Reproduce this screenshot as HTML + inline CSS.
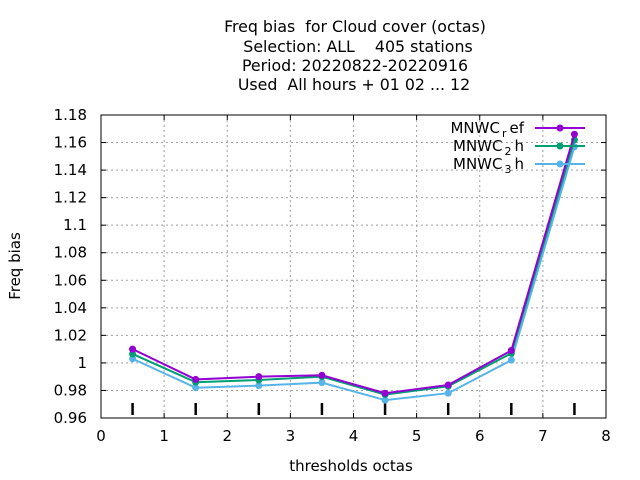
<!DOCTYPE html>
<html><head><meta charset="utf-8"><style>body{margin:0;background:#fff}svg{display:block;font-family:"DejaVu Sans","Liberation Sans",sans-serif}text{white-space:pre}</style></head>
<body>
<svg id="chart" width="640" height="480" xmlns="http://www.w3.org/2000/svg" xml:space="preserve">
<g font-size="15.8" text-anchor="middle" fill="#000">
<text x="355" y="32">Freq bias  for Cloud cover (octas)</text>
<text x="358" y="52">Selection: ALL    405 stations</text>
<text x="355" y="71">Period: 20220822-20220916</text>
<text x="354" y="90">Used  All hours + 01 02 ... 12</text>
</g>
<g id="grid"></g>
<g id="axes"></g>
<g id="series"></g>
<text x="20" y="266" font-size="15" text-anchor="middle" transform="rotate(-90 20 266)">Freq bias</text>
<text x="351" y="471" font-size="15" text-anchor="middle">thresholds octas</text>
<g id="legend"></g>
</svg>
<script>
const categories=[0.5,1.5,2.5,3.5,4.5,5.5,6.5,7.5];
const refValues=[1.010,0.988,0.990,0.991,0.978,0.984,1.009,1.166];
const c2hValues=[1.0065,0.986,0.9876,0.990,0.977,0.983,1.007,1.162];
const c3hValues=[1.003,0.982,0.9835,0.9857,0.973,0.978,1.002,1.157];
const xTicks=[0,1,2,3,4,5,6,7,8];
const yTicks=[0.96,0.98,1,1.02,1.04,1.06,1.08,1.1,1.12,1.14,1.16,1.18];
const seriesNames=["MNWC_ref","MNWC_2h","MNWC_3h"];
const L=101,R=606,T=115,B=418;
const xs=v=>L+(v-0)/8*(R-L);
const ys=v=>B-(v-0.96)/0.22*(B-T);
const NS="http://www.w3.org/2000/svg";
function mk(p,t,a){const e=document.createElementNS(NS,t);for(const k in a)e.setAttribute(k,a[k]);p.appendChild(e);return e;}
const grid=document.getElementById('grid'),axes=document.getElementById('axes'),ser=document.getElementById('series'),leg=document.getElementById('legend');
xTicks.forEach(t=>{const x=xs(t);
 if(t>0&&t<8){const g=mk(grid,'line',{x1:x,x2:x,y1:T,y2:B,stroke:'#a0a0a0','stroke-dasharray':'2,3'});
 
 }
 const tl=mk(axes,'line',{x1:x,x2:x,y1:B,y2:B-5,stroke:'#000'});
 const tl2=mk(axes,'line',{x1:x,x2:x,y1:T,y2:T+5,stroke:'#000'});
 const lb=mk(axes,'text',{x:x,y:B+23,'font-size':15,'text-anchor':'middle'});lb.textContent=t;
 
 });
yTicks.forEach(t=>{const y=ys(t);
 if(t>0.96&&t<1.18){const g=mk(grid,'line',{x1:L,x2:R,y1:y,y2:y,stroke:'#a0a0a0','stroke-dasharray':'2,3'});
 
 }
 const tl=mk(axes,'line',{x1:L,x2:L+5,y1:y,y2:y,stroke:'#000'});
 const tr=mk(axes,'line',{x1:R,x2:R-5,y1:y,y2:y,stroke:'#000'});
 const lb=mk(axes,'text',{x:L-14,y:y+5,'font-size':15,'text-anchor':'end'});lb.textContent=String(t);
 
 });
const fr=mk(axes,'rect',{x:L,y:T,width:R-L,height:B-T,fill:'none',stroke:'#000'});


categories.forEach(c=>{const im=mk(axes,'line',{x1:xs(c),x2:xs(c),y1:B-15,y2:B-3,stroke:'#000','stroke-width':2.5});
 
 });
const all=[[refValues,'#9400d3'],[c2hValues,'#009e73'],[c3hValues,'#56b4e9']];
all.slice().reverse().forEach(([vals,col],ri)=>{const i=2-ri;
 const pl=mk(ser,'polyline',{points:categories.map((c,j)=>xs(c)+','+ys(vals[j])).join(' '),fill:'none',stroke:col,'stroke-width':2});
 
 
 categories.forEach((c,j)=>{const p=mk(ser,'circle',{cx:xs(c),cy:ys(vals[j]),r:3.5,fill:col});
  
  });});
const legText=[['MNWC','r','ef'],['MNWC','2','h'],['MNWC','3','h']];
all.forEach(([v,col],i)=>{const y=128+i*18;
 const t=mk(leg,'text',{x:524,y:y+5,'font-size':15,'text-anchor':'end'});
 t.innerHTML=legText[i][0]+'<tspan dx="2" dy="4" font-size="11">'+legText[i][1]+'</tspan><tspan dx="3" dy="-4">'+legText[i][2]+'</tspan>';
 
 
 const ln=mk(leg,'line',{x1:535,x2:585,y1:y,y2:y,stroke:col,'stroke-width':2});
 
 
 const d=mk(leg,'circle',{cx:560,cy:y,r:3.5,fill:col});
 
 });
</script>
</body></html>
